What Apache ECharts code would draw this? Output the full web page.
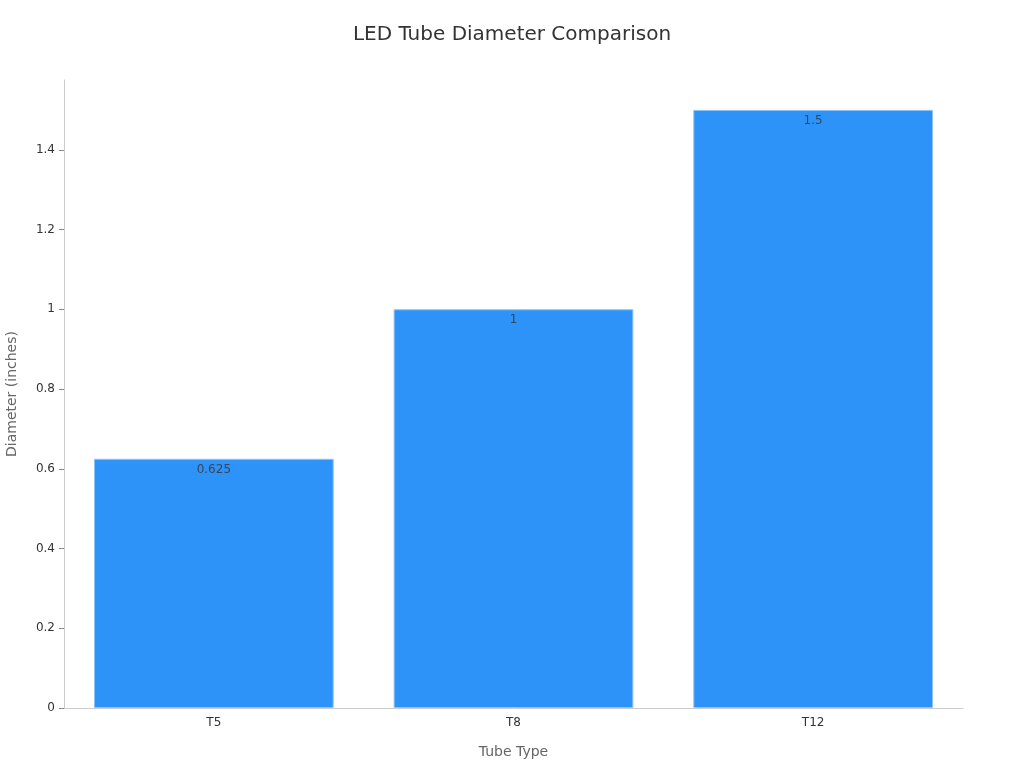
<!DOCTYPE html>
<html>
<head>
    <meta charset="utf-8">
    <title>LED Tube Diameter Comparison</title>
    <script src="https://cdn.jsdelivr.net/npm/echarts@6/dist/echarts.min.js"></script>
    <style>
        html, body { margin: 0; padding: 0; background: #fff; }
    </style>
</head>
<body>
<div id="main" style="width: 1024px;height:768px;"></div>
<script type="text/javascript">
    const tubeTypes = ['T5', 'T8', 'T12'];
    const diameters = [0.625, 1, 1.5];
    const yTicks = [0, 0.2, 0.4, 0.6, 0.8, 1, 1.2, 1.4];

    const myChart = echarts.init(document.getElementById('main'));
    const font = 'DejaVu Sans';

    const option = {
        animation: false,
        title: {
            text: 'LED Tube Diameter Comparison',
            left: 'center',
            top: 20,
            textStyle: {fontFamily: font, fontSize: 20, fontWeight: 'normal', color: '#333'}
        },
        grid: {left: 64, right: 61, top: 80, bottom: 60, containLabel: false, outerBoundsMode: 'none'},
        xAxis: {
            type: 'category',
            data: tubeTypes,
            name: 'Tube Type',
            nameLocation: 'middle',
            nameGap: 37,
            nameTextStyle: {fontFamily: font, fontSize: 14, color: '#666'},
            axisLine: {lineStyle: {color: '#ccc'}},
            axisTick: {alignWithLabel: true, length: 5, lineStyle: {color: '#888'}},
            axisLabel: {fontFamily: font, fontSize: 12, color: '#333', margin: 9}
        },
        yAxis: {
            type: 'value',
            min: 0,
            max: 1.575,
            interval: 0.2,
            name: 'Diameter (inches)',
            nameLocation: 'middle',
            nameGap: 45,
            nameTextStyle: {fontFamily: font, fontSize: 14, color: '#666'},
            splitLine: {show: false},
            axisLine: {show: true, lineStyle: {color: '#ccc'}},
            axisTick: {show: true, length: 5, customValues: yTicks, lineStyle: {color: '#888'}},
            axisLabel: {fontFamily: font, fontSize: 12, color: '#333', margin: 9, customValues: yTicks}
        },
        series: [{
            type: 'bar',
            data: diameters,
            barWidth: '80%',
            itemStyle: {color: '#2e93f8', borderColor: '#8cc4fb', borderWidth: 1},
            label: {
                show: true,
                position: 'insideTop',
                distance: 5,
                fontFamily: font,
                fontSize: 12,
                color: '#3a4656'
            }
        }]
    };

    myChart.setOption(option);
</script>
</body>
</html>
